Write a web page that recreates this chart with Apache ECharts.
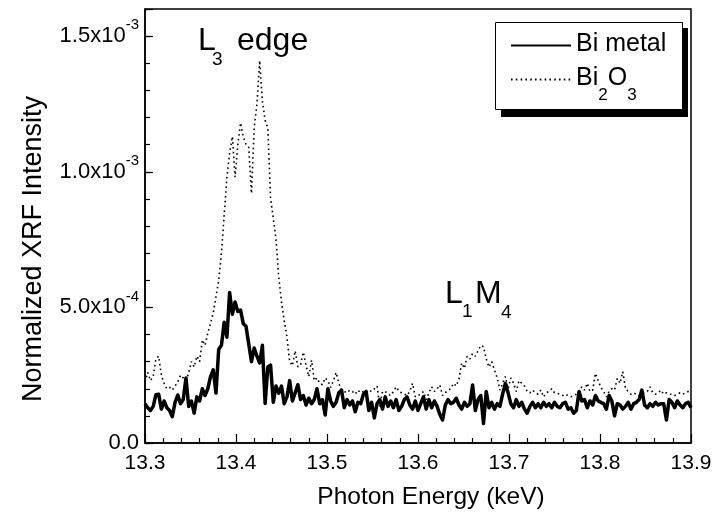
<!DOCTYPE html>
<html><head><meta charset="utf-8">
<script src="https://cdn.jsdelivr.net/npm/echarts@6/dist/echarts.min.js"></script>
<style>html,body{margin:0;padding:0;background:#fff}#c{width:718px;height:520px}</style>
</head><body><div id="c"></div>
<script>
// Photon energy grid (keV): first sample and spacing
const energyStart = 13.3;
const energyStep = 0.003;
// Normalized XRF intensity, in units of 1e-4
const biMetal = [
1.45,1.3,1.2,1.35,1.78,1.8,1.25,1.55,1.3,1.2,
0.97,1.5,1.77,1.45,1.6,2.4,1.35,1.55,1.1,1.7,
1.55,2.0,1.75,2.0,2.45,2.7,1.84,3.45,3.6,4.45,
3.9,5.55,4.75,5.2,4.85,4.9,4.4,4.3,3.65,3.0,
3.5,3.2,2.95,3.6,1.46,2.8,2.87,1.5,2.1,1.84,
2.1,1.45,1.7,2.3,1.55,1.85,2.15,1.6,1.75,1.4,
1.65,1.45,1.6,2.0,1.45,1.6,1.03,2.0,1.55,1.35,
1.5,1.85,1.95,1.3,1.6,1.4,1.55,1.15,1.5,1.45,
1.8,1.9,1.2,1.5,0.92,1.45,1.6,1.25,1.7,1.35,
1.55,1.3,1.6,1.2,1.35,1.6,1.7,1.4,1.25,1.55,
1.2,1.45,1.7,1.25,1.6,1.3,1.55,1.35,1.05,0.85,
1.4,1.6,1.45,1.5,1.65,1.4,1.25,1.5,1.35,1.45,
2.14,1.2,1.6,1.75,0.72,1.9,1.3,1.5,1.25,1.45,
1.35,1.8,2.2,1.85,1.45,1.3,1.6,1.35,1.5,1.25,
1.1,1.35,1.5,1.3,1.45,1.3,1.5,1.35,1.45,1.3,
1.5,1.35,1.3,1.45,1.5,1.25,1.3,1.1,1.2,1.9,
1.55,1.6,1.3,1.55,1.4,1.75,1.55,1.5,1.45,1.25,
1.75,1.55,1.0,1.45,1.4,1.25,1.35,1.5,1.25,1.45,
1.5,1.6,1.95,1.4,1.3,1.45,1.35,1.5,1.4,1.45,
1.45,0.85,1.6,1.5,1.3,1.55,1.4,1.3,1.45,1.5,
1.3];
const bi2o3 = [
2.25,2.6,2.3,2.45,3.1,3.2,2.5,2.2,2.0,2.05,
1.95,2.1,2.25,2.5,2.4,2.2,2.6,3.0,2.8,3.2,
3.0,3.8,3.6,4.05,4.4,4.8,5.4,6.0,7.0,8.4,
9.8,10.7,11.3,9.8,11.0,11.8,11.3,11.0,10.9,9.2,
11.6,12.5,14.1,12.6,11.9,11.6,9.0,8.3,7.5,6.1,
5.2,4.5,3.9,3.0,2.85,3.4,2.8,2.9,3.35,2.85,
2.45,3.05,2.3,2.4,2.2,2.15,2.4,2.3,2.05,2.3,
2.6,2.2,1.95,1.9,1.85,1.95,1.9,1.8,1.95,1.85,
1.9,1.85,1.95,1.9,2.0,2.1,1.35,1.9,1.9,1.8,
1.75,1.9,2.07,1.9,1.85,1.8,1.75,1.9,2.2,1.7,
1.75,1.8,1.9,1.6,1.85,2.07,1.9,2.0,2.14,1.75,
1.85,1.95,2.0,2.2,2.1,2.35,2.95,2.75,3.2,3.1,
3.3,3.2,3.4,3.6,3.55,3.1,2.8,3.0,2.7,2.4,
1.95,2.2,2.45,2.0,2.4,2.2,1.9,2.3,2.2,2.1,
1.9,1.85,1.95,1.85,1.8,1.95,1.7,1.85,1.9,2.0,
1.85,1.83,1.8,1.75,1.8,1.75,1.7,1.75,1.8,1.85,
2.07,1.95,2.2,1.9,1.95,2.57,2.3,2.05,1.9,1.7,
1.9,2.0,1.95,2.38,2.2,2.63,2.0,1.9,1.8,1.85,
1.8,1.75,1.8,1.85,1.9,2.07,1.85,1.8,1.85,1.95,
1.8,1.85,1.8,1.8,1.75,1.8,1.85,1.8,1.85,1.9,
1.95];
const seriesNames = ['Bi metal', 'Bi2O3'];
// y tick labels (value in 1e-4 units -> mantissa, exponent)
const yTickLabels = {0: ['0.0', ''], 5: ['5.0x10', '-4'], 10: ['1.0x10', '-3'], 15: ['1.5x10', '-3']};

const FONT = "'Liberation Sans', Arial, sans-serif";
const toPairs = arr => arr.map((v, i) => [+(energyStart + i * energyStep).toFixed(4), v]);

const chart = echarts.init(document.getElementById('c'), null, {renderer: 'canvas'});
const legendRich = {
  'Bi metal': '{n|Bi metal}',
  'Bi2O3': '{n|Bi}{s|2}{n|O}{s|3}'
};
const annot = (x, y, text, size) => ({
  type: 'text', x: x, y: y, silent: true,
  style: {text: text, fontSize: size, fontFamily: FONT, fill: '#000',
    align: 'left', verticalAlign: 'middle', textAlign: 'left', textVerticalAlign: 'middle'}
});

chart.setOption({
  animation: false,
  backgroundColor: '#fff',
  grid: {left: 145, right: 27, top: 9, bottom: 77, show: true, borderColor: '#000', borderWidth: 1.5, containLabel: false, outerBoundsMode: 'none'},
  xAxis: {
    type: 'value', min: 13.3, max: 13.9, interval: 0.1,
    name: 'Photon Energy (keV)', nameLocation: 'middle', nameGap: 42,
    nameTextStyle: {fontFamily: FONT, fontSize: 24.5, color: '#000', padding: [0, 0, 0, 26]},
    axisLine: {lineStyle: {color: '#000', width: 1.5}},
    axisTick: {inside: true, length: 9, lineStyle: {color: '#000', width: 1.2}},
    minorTick: {show: true, splitNumber: 5, length: 5, lineStyle: {color: '#000', width: 1.2}},
    splitLine: {show: false},
    axisLabel: {fontFamily: FONT, fontSize: 21, color: '#000', margin: 10, formatter: v => v.toFixed(1)}
  },
  yAxis: [{
    type: 'value', min: 0, max: 16, interval: 5,
    name: 'Normalized XRF Intensity', nameLocation: 'middle', nameGap: 98,
    nameTextStyle: {fontFamily: FONT, fontSize: 27, color: '#000', padding: [0, 46, 0, 0]},
    axisLine: {show: true, lineStyle: {color: '#000', width: 1.5}},
    axisTick: {inside: true, length: 8, lineStyle: {color: '#000', width: 1.2}},
    splitLine: {show: false},
    axisLabel: {
      margin: 6, color: '#000',
      formatter: v => {
        const t = yTickLabels[Math.round(v)];
        if (!t || Math.abs(v - Math.round(v)) > 1e-6) return '';
        return t[1] ? '{b|' + t[0] + '}{s|' + t[1] + '}' : '{b|' + t[0] + '}';
      },
      rich: {
        b: {fontFamily: FONT, fontSize: 22, color: '#000', lineHeight: 22},
        s: {fontFamily: FONT, fontSize: 15, color: '#000', lineHeight: 15, padding: [0, 0, 22, 0]}
      }
    }
  }, {
    type: 'value', min: 0, max: 16, interval: 1, position: 'left',
    axisLine: {show: false},
    axisTick: {inside: true, length: 5, lineStyle: {color: '#000', width: 1.2}},
    axisLabel: {show: false}, splitLine: {show: false}
  }],
  legend: {
    orient: 'vertical', left: 495, top: 22, z: 10,
    padding: [10, 15, 5, 15], itemGap: 9, itemWidth: 60, itemHeight: 12,
    backgroundColor: 'transparent', borderWidth: 0,
    selectedMode: false,
    itemStyle: {opacity: 0},
    data: seriesNames,
    formatter: name => legendRich[name],
    textStyle: {
      fontFamily: FONT, fontSize: 25, color: '#000',
      rich: {
        n: {fontFamily: FONT, fontSize: 25, color: '#000', lineHeight: 27, verticalAlign: 'top'},
        s: {fontFamily: FONT, fontSize: 17, color: '#000', lineHeight: 17, verticalAlign: 'top', padding: [21, 0, 0, 0]}
      }
    }
  },
  series: [{
    name: seriesNames[1], type: 'line', data: toPairs(bi2o3), yAxisIndex: 0,
    symbol: 'none', showSymbol: false, z: 2,
    itemStyle: {color: '#000'},
    lineStyle: {color: '#000', width: 1.6, type: [1.6, 3.2], cap: 'butt'}
  }, {
    name: seriesNames[0], type: 'line', data: toPairs(biMetal), yAxisIndex: 0,
    symbol: 'none', showSymbol: false, z: 3,
    itemStyle: {color: '#000'},
    lineStyle: {color: '#000', width: 3.5, join: 'round'}
  }],
  graphic: [
    {type: 'rect', z: 5, silent: true, shape: {x: 501, y: 28, width: 187, height: 89}, style: {fill: '#000'}},
    {type: 'rect', z: 6, silent: true, shape: {x: 495.5, y: 22.5, width: 187, height: 87}, style: {fill: '#fff', stroke: '#000', lineWidth: 1}},
    annot(198, 41, 'L', 32), annot(212, 60, '3', 19), annot(237, 41, 'edge', 32),
    annot(445, 294, 'L', 32), annot(462, 312, '1', 19), annot(475, 294, 'M', 32), annot(501, 313, '4', 19)
  ]
});
</script></body></html>
